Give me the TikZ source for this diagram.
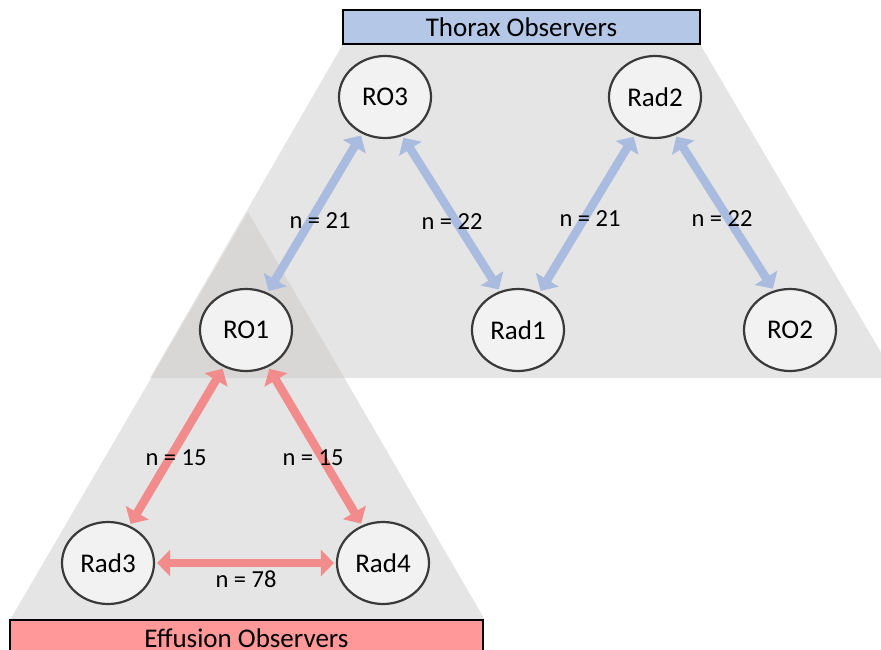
\documentclass[tikz,border=0pt]{standalone}
\usepackage{fontspec}
\setmainfont{Carlito}
\usetikzlibrary{shapes.geometric,arrows.meta}
\definecolor{thbox}{HTML}{B4C7E7}
\definecolor{efbox}{HTML}{FF9999}
\definecolor{zone}{HTML}{E5E5E5}
\definecolor{zonedark}{HTML}{D9D6D6}
\definecolor{bluearr}{HTML}{A9BCE0}
\definecolor{redarr}{HTML}{F28B8B}
\definecolor{nodefill}{HTML}{F2F2F2}
\definecolor{nodeline}{HTML}{3A3A3A}
\begin{document}
\begin{tikzpicture}[x=1pt,y=-1pt,
  obs/.style={ellipse,draw=nodeline,line width=2.2pt,fill=nodefill,minimum width=92pt,minimum height=82pt,inner sep=0pt,font=\fontsize{27}{31}\selectfont},
  conn/.style={line width=8.5pt,shorten <=2pt,shorten >=2pt,{Triangle[length=13pt,width=26pt]}-{Triangle[length=13pt,width=26pt]}},
  lbl/.style={font=\fontsize{24.5}{28}\selectfont,inner sep=0pt},
  groupbox/.style={draw=black,line width=2pt,inner sep=0pt,font=\fontsize{27}{31}\selectfont}
]
\useasboundingbox (0,0) rectangle (881,650);
\clip (0,0) rectangle (881,650);
% zones
\fill[zone] (343,44) -- (700,44) -- (896,378) -- (150,378) -- cycle;
\fill[zone] (248,212) -- (485,620) -- (10,620) -- cycle;
\begin{scope}
  \clip (343,44) -- (700,44) -- (896,378) -- (150,378) -- cycle;
  \fill[zonedark] (248,212) -- (485,620) -- (10,620) -- cycle;
\end{scope}
% group boxes
\node[groupbox,fill=thbox,minimum width=357pt,minimum height=34pt] (thorax) at (521.5,27) {Thorax Observers};
\node[groupbox,fill=efbox,minimum width=473pt,minimum height=40pt] (effusion) at (246.5,640) {};
\node[font=\fontsize{27}{31}\selectfont,inner sep=0pt] (efftext) at (246.5,638) {Effusion Observers};
% observers
\node[obs] (RO3) at (385,97) {RO3};
\node[obs] (Rad2) at (655,97) {Rad2};
\node[obs] (RO1) at (246,330) {RO1};
\node[obs] (Rad1) at (518,330) {Rad1};
\node[obs] (RO2) at (790,330) {RO2};
\node[obs] (Rad3) at (108,563) {Rad3};
\node[obs] (Rad4) at (383,563) {Rad4};
% connectors
\draw[conn,bluearr] (RO3.238) -- (RO1.60);
\draw[conn,bluearr] (RO3.294) -- (Rad1.115);
\draw[conn,bluearr] (Rad2.242) -- (Rad1.60);
\draw[conn,bluearr] (Rad2.298) -- (RO2.112);
\draw[conn,redarr] (RO1.239) -- (Rad3.60);
\draw[conn,redarr] (RO1.301) -- (Rad4.119);
\draw[conn,redarr] (Rad3.east) -- (Rad4.west);
% labels
\node[lbl] (l1) at (320,221) {n = 21};
\node[lbl] (l2) at (452,222) {n = 22};
\node[lbl] (l3) at (590,219) {n = 21};
\node[lbl] (l4) at (722,219) {n = 22};
\node[lbl] (l5) at (176,458) {n = 15};
\node[lbl] (l6) at (313,458) {n = 15};
\node[lbl] (l7) at (246,579) {n = 78};
\end{tikzpicture}
\end{document}
